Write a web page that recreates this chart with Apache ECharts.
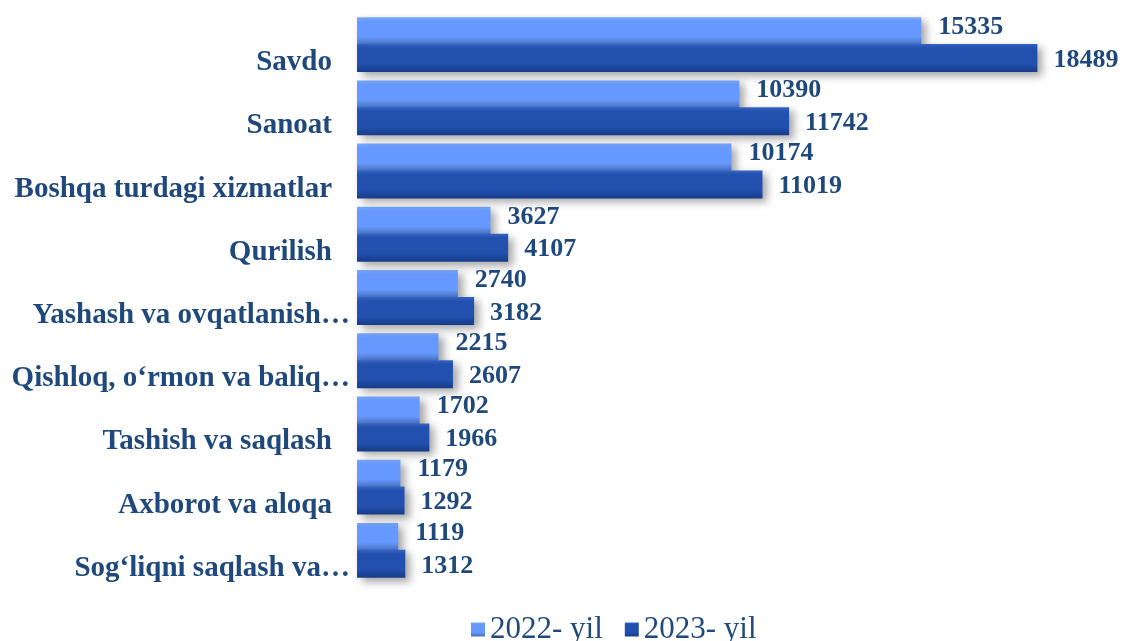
<!DOCTYPE html>
<html><head><meta charset="utf-8">
<script src="https://cdn.jsdelivr.net/npm/echarts@6/dist/echarts.min.js"></script>
<style>html,body{margin:0;padding:0;background:#fff}#c{width:1123px;height:641px}</style>
</head><body><div id="c"></div>
<script>
const categories = ["Savdo", "Sanoat", "Boshqa turdagi xizmatlar", "Qurilish", "Yashash va ovqatlanish\u2026", "Qishloq, o\u2018rmon va baliq\u2026", "Tashish va saqlash", "Axborot va aloqa", "Sog\u2018liqni saqlash va\u2026"];
const values2022 = [15335, 10390, 10174, 3627, 2740, 2215, 1702, 1179, 1119];
const values2023 = [18489, 11742, 11019, 4107, 3182, 2607, 1966, 1292, 1312];
const seriesNames = ["2022- yil", "2023- yil"];

const FONT = "'Liberation Serif','Times New Roman',serif";
const TXT = '#1F497D';
const chart = echarts.init(document.getElementById('c'));
function grad(top, mid, bot){
  return new echarts.graphic.LinearGradient(0,0,0,1,[
    {offset:0,color:top},{offset:0.15,color:mid},{offset:0.7,color:mid},{offset:1,color:bot}]);
}
chart.setOption({
  animation:false,
  grid:{left:357,right:30,top:13,bottom:59},
  xAxis:{type:'value',min:0,max:20000,show:false},
  yAxis:{type:'category',data:categories,inverse:true,
    axisLine:{show:false},axisTick:{show:false},
    axisLabel:{margin:0,
      formatter:function(v){return v.indexOf('\u2026')>=0?'{e|'+v+'}':'{a|'+v+'}';},
      rich:{
        a:{fontFamily:FONT,fontWeight:'bold',fontSize:29,color:TXT,padding:[36,25,0,0]},
        e:{fontFamily:FONT,fontWeight:'bold',fontSize:29,color:TXT,padding:[36,7,0,0]}
      }}},
  legend:{bottom:-9,left:466,itemWidth:14,itemHeight:14,itemGap:22,
    textStyle:{fontFamily:FONT,fontSize:31,color:TXT},
    data:[{name:seriesNames[0],icon:'rect'},{name:seriesNames[1],icon:'rect'}]},
  series:[
    {name:seriesNames[0],type:'bar',data:values2022,barWidth:28,barGap:'-4%',
     itemStyle:{color:grad('#79A8FA','#6699FF','#4670BE'),shadowColor:'rgba(0,0,0,0.35)',shadowBlur:8,shadowOffsetX:5,shadowOffsetY:4},
     label:{show:true,position:'right',distance:17,offset:[0,-4],fontFamily:FONT,fontWeight:'bold',fontSize:26,color:TXT}},
    {name:seriesNames[1],type:'bar',data:values2023,barWidth:28,
     itemStyle:{color:grad('#3564C4','#2150AE','#173C88'),shadowColor:'rgba(0,0,0,0.35)',shadowBlur:8,shadowOffsetX:5,shadowOffsetY:4},
     label:{show:true,position:'right',distance:16,offset:[0,2],fontFamily:FONT,fontWeight:'bold',fontSize:26,color:TXT}}
  ]
});
</script></body></html>
